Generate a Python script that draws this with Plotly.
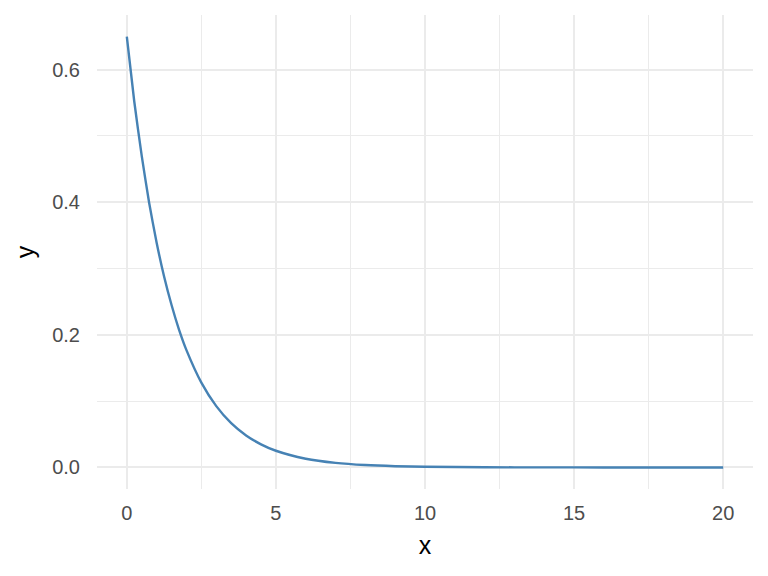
import plotly.graph_objects as go

x_vals = [0, 0.25, 0.5, 0.75, 1, 1.25, 1.5, 1.75, 2, 2.5, 3, 3.5, 4, 4.5, 5, 6, 7, 8, 9, 10, 12, 14, 16, 18, 20]
y_vals = [0.650, 0.552, 0.470, 0.399, 0.339, 0.288, 0.245, 0.208, 0.177, 0.128, 0.0925, 0.0668, 0.0483, 0.0349,
          0.0252, 0.0132, 0.0069, 0.0036, 0.0019, 0.0010, 0.0003, 0.0001, 0.00002, 0.0, 0.0]
x_ticks = [0, 5, 10, 15, 20]
y_ticks = [0.0, 0.2, 0.4, 0.6]
y_tick_labels = ["0.0", "0.2", "0.4", "0.6"]

fig = go.Figure()
fig.add_trace(go.Scatter(x=x_vals, y=y_vals, mode="lines",
                         line=dict(color="#4682B4", width=2.4, shape="spline", smoothing=0.6),
                         showlegend=False, hoverinfo="skip"))

grid_major = "#EBEBEB"
fig.update_layout(
    width=768, height=576,
    margin=dict(l=89, r=23, t=7, b=95),
    paper_bgcolor="white", plot_bgcolor="white",
    font=dict(family="Liberation Sans, Arial, sans-serif"),
    xaxis=dict(
        range=[-1, 21], tickvals=x_ticks, ticktext=[str(v) for v in x_ticks],
        showgrid=True, gridcolor=grid_major, gridwidth=1.6,
        minor=dict(tickvals=[2.5, 7.5, 12.5, 17.5], showgrid=True, gridcolor=grid_major, gridwidth=0.8),
        zeroline=False, showline=False, ticks="outside", ticklen=6, tickcolor="rgba(0,0,0,0)",
        tickfont=dict(size=20, color="#4D4D4D"),
        title=dict(text="x", font=dict(size=25, color="black"), standoff=13),
        automargin=False,
    ),
    yaxis=dict(
        range=[-0.0325, 0.6825], tickvals=y_ticks, ticktext=y_tick_labels,
        showgrid=True, gridcolor=grid_major, gridwidth=1.6,
        minor=dict(tickvals=[0.1, 0.3, 0.5], showgrid=True, gridcolor=grid_major, gridwidth=0.8),
        zeroline=False, showline=False, ticks="outside", ticklen=12, tickcolor="rgba(0,0,0,0)",
        tickfont=dict(size=20, color="#4D4D4D"),
        title=dict(text="y", font=dict(size=25, color="black"), standoff=10),
        automargin=False,
    ),
)

fig.write_html("out.html")
